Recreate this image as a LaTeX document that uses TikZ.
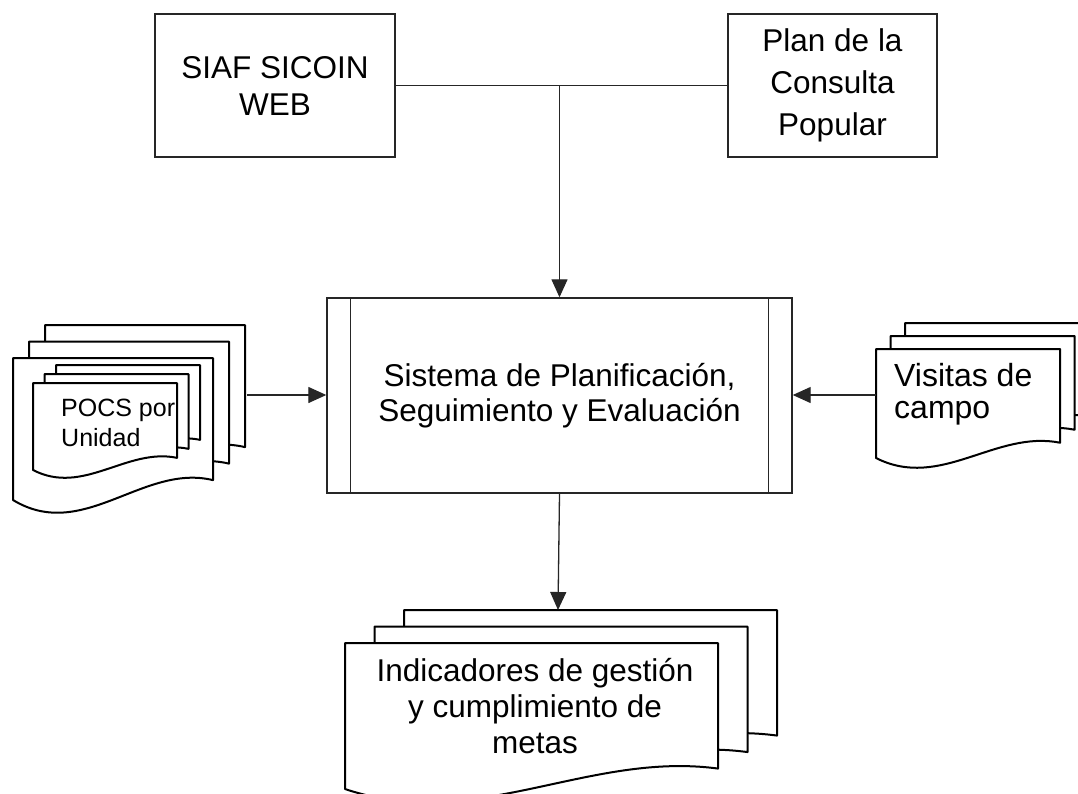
\documentclass[tikz,border=0pt]{standalone}
\usepackage{fontspec}
\setmainfont{Liberation Sans}
\usetikzlibrary{
  arrows.meta,
  calc,
  positioning
}
\newcommand{\docsheet}[4]{% top-left x, top-left y, width, height
  \pgfmathsetmacro{\docL}{#2+#4}
  \pgfmathsetmacro{\docR}{#2+0.86*#4}
  \filldraw[sheet] (#1,#2) -- (#1+#3,#2) -- (#1+#3,\docR)
    .. controls (#1+0.65*#3,\docR-0.12*#4) and (#1+0.35*#3,\docL+0.3*#4) .. (#1,\docL) -- cycle;
}
\newcommand{\docstack}[6]{% front sheet x, y, w, h, shift x, shift y
  \docsheet{#1+2*#5}{#2-2*#6}{#3}{#4}
  \docsheet{#1+#5}{#2-#6}{#3}{#4}
  \docsheet{#1}{#2}{#3}{#4}
}

\begin{document}
\begin{tikzpicture}[
  x=1pt, y=-1pt,
  box/.style={draw=black!85, line width=1.4pt, align=center, inner sep=0pt},
  sheet/.style={draw=black, fill=white, line width=2pt, line join=round},
  doctext/.style={inner sep=0pt, font=\fontsize{32}{32}\selectfont},
  link/.style={draw=black!85, line width=1.3pt},
  arr/.style={link, -{Triangle[length=18pt,width=16pt]}}
]
\fill[white] (0,0) rectangle (1078,793);
\useasboundingbox (0,0) rectangle (1078,793);
\clip (0,0) rectangle (1078,793);

\node[box, minimum width=240pt, minimum height=143pt, font=\fontsize{31.5}{37}\selectfont] (siaf) at (275,85.5) {SIAF SICOIN\\WEB};
\node[box, minimum width=209pt, minimum height=143pt, font=\fontsize{31.5}{42}\selectfont] (plan) at (832.5,85.5) {Plan de la\\Consulta\\Popular};
\node[box, minimum width=465pt, minimum height=195pt, font=\fontsize{31.5}{35}\selectfont] (sispse) at (559.5,395.5) {Sistema de Planificación,\\Seguimiento y Evaluación};
\draw[link] ([xshift=24pt]sispse.north west) -- ([xshift=24pt]sispse.south west);
\draw[link] ([xshift=-24pt]sispse.north east) -- ([xshift=-24pt]sispse.south east);

% Documents
\docstack{13}{358}{200}{142}{16}{16.5}
\docstack{33}{383}{144}{87}{11.5}{9}
\node[doctext, font=\fontsize{25}{30}\selectfont, align=left, anchor=west] (pocs) at (61,423) {POCS por\\Unidad};
\coordinate (pocsout) at (247,395);

\docstack{876}{349}{184}{109}{14.5}{13}
\node[doctext, align=left, anchor=west] (visitas) at (894,394) {Visitas de\\campo};
\coordinate (visitasout) at (876,395);

\docstack{345}{643}{373}{146}{29.5}{16.5}
\node[doctext, align=center, font=\fontsize{31.5}{36}\selectfont] (indic) at (535,706) {Indicadores de gestión\\y cumplimiento de\\metas};
\coordinate (indicin) at (558,610);

\coordinate (junc) at (sispse.north |- siaf.east);
\draw[link] (siaf) -- (plan);
\draw[arr] (junc) -- (sispse);
\draw[arr] (pocsout) -- (pocsout -| sispse.west);
\draw[arr] (visitasout) -- (visitasout -| sispse.east);
\draw[arr] (sispse.south) -- (indicin);

\end{tikzpicture}
\end{document}
